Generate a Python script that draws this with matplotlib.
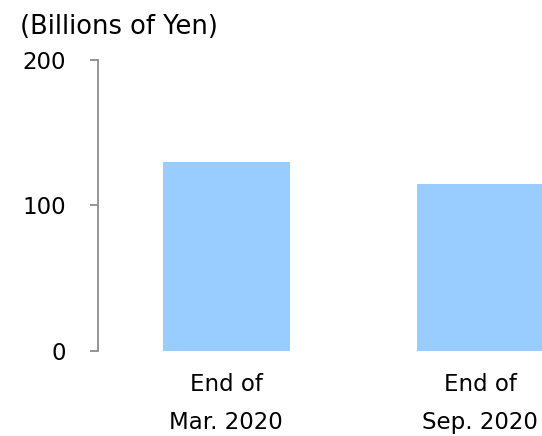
import matplotlib
matplotlib.use('Agg')
import matplotlib.pyplot as plt

categories = ['End of\nMar. 2020', 'End of\nSep. 2020']
values = [130, 115]
y_ticks = [0, 100, 200]

plt.rcParams['font.family'] = ['Verdana', 'DejaVu Sans']

fig = plt.figure(figsize=(5.42, 4.36), dpi=100)
ax = fig.add_axes([98 / 542, 85 / 436, 1 - 98 / 542, (351 - 60) / 436])

pos = list(range(len(categories)))
ax.bar(pos, values, width=0.5, color='#99CCFF', edgecolor='none')

ax.set_ylim(0, 200)
ax.set_xlim(-0.504, 1.244)
ax.set_yticks(y_ticks)
ax.set_xticks(pos)
ax.set_xticklabels(categories, linespacing=1.8, fontsize=16.5)

for s in ['top', 'right', 'bottom']:
    ax.spines[s].set_visible(False)
ax.spines['left'].set_color('#8c8c8c')
ax.spines['left'].set_linewidth(1.3)
ax.tick_params(axis='y', length=6, width=1.3, color='#8c8c8c', pad=17, labelsize=16.5)
ax.tick_params(axis='x', length=0, pad=16)

fig.text(20 / 542, 1 - 27 / 436, '(Billions of Yen)', fontsize=18.5, va='center', ha='left')

fig.savefig('out.png', dpi=100)
